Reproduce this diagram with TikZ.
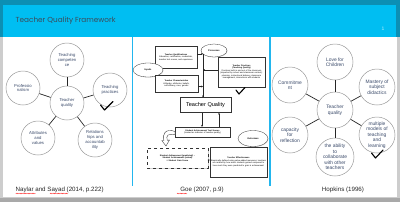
\documentclass[tikz,border=0pt]{standalone}
\usepackage{fontspec}
\setmainfont{Liberation Sans}
\newfontfamily\titlefont{Poppins}
\usetikzlibrary{shapes.geometric,shadows,arrows.meta,decorations.pathmorphing}
\definecolor{darkteal}{HTML}{0C8FB4}
\definecolor{headcyan}{HTML}{00BEF2}
\definecolor{linecyan}{HTML}{22B6EE}
\definecolor{titlegray}{HTML}{3C4B5A}
\definecolor{circtext}{HTML}{3A4A6A}
\definecolor{circline}{HTML}{9A9A9A}
\definecolor{shadowgray}{HTML}{A9A9A9}
\definecolor{sidegray}{HTML}{CDCDCD}
\tikzset{
  bubbleL/.style={circle,draw=circline,line width=0.5pt,fill=white,minimum size=34pt,inner sep=0pt,align=center,text=circtext,font=\fontsize{4.2}{4.8}\selectfont},
  bubbleR/.style={circle,draw=circline,line width=0.5pt,fill=white,minimum size=36pt,inner sep=0pt,align=center,text=circtext,font=\fontsize{4.9}{5.5}\selectfont},
  spoke/.style={draw=black!85,line width=0.7pt},
  gbox/.style={draw=black!80,line width=0.3pt,fill=white,align=center,inner sep=0.6pt,font=\fontsize{2.1}{2.5}\selectfont,drop shadow={shadow xshift=0.7pt,shadow yshift=-0.7pt,fill=gray!35,opacity=1}},
  gell/.style={ellipse,draw=black!80,line width=0.3pt,fill=white,inner sep=0pt,font=\fontsize{2.3}{2.7}\selectfont,drop shadow={shadow xshift=0.5pt,shadow yshift=-0.5pt,fill=gray!30,opacity=1}},
  garrow/.style={draw=black!85,line width=0.35pt,-{Stealth[length=2pt,width=1.8pt]}},
  caption/.style={font=\fontsize{6.2}{7}\selectfont,text=black!85},
  check/.style={draw=black,line width=1.1pt,line join=round,line cap=round},
  squiggle/.style={draw=red!85,line width=0.3pt,decorate,decoration={snake,amplitude=0.35pt,segment length=1.6pt}}
}
\begin{document}
\begin{tikzpicture}[x=1pt,y=-1pt]
\useasboundingbox (0,0) rectangle (400,202);
% frame
\fill[shadowgray] (0,0) rectangle (400,202);
\fill[sidegray] (0,0) rectangle (400,198);
\fill[darkteal] (0,0) rectangle (400,37);
\fill[headcyan] (3,4.5) rectangle (396,37);
\fill[white] (3,37) rectangle (397,197);
\node[font=\titlefont\fontsize{7.3}{8}\selectfont,text=titlegray,anchor=west,inner sep=0pt] (title) at (15.5,21) {Teacher Quality Framework};
\node[font=\fontsize{5}{6}\selectfont,text=white!70!headcyan,inner sep=0pt] (pnum) at (383,29) {1};
% separators
\draw[linecyan,line width=1.4pt] (132.5,37) -- (132.5,186);
\draw[linecyan,line width=1.4pt] (270,37) -- (270,186);

% ---------- left panel ----------
\node[bubbleL] (lc) at (67,103) {Teacher\\quality};
\node[bubbleL] (ltc) at (67,60) {Teaching\\competen\\ce};
\node[bubbleL] (lpr) at (23,88) {Professio\\nalism};
\node[bubbleL] (ltp) at (110,90) {Teaching\\practices};
\node[bubbleL] (lav) at (38,138) {Attributes\\and\\values};
\node[bubbleL] (lrh) at (95,140) {Relations\\hips and\\accountab\\ility};
\foreach \o in {ltc,lpr,ltp,lav,lrh} \draw[spoke] (lc) -- (\o);
\draw[check] (100.5,105) -- (104.5,110) -- (113,101.5);

% ---------- right panel ----------
\node[bubbleR] (rc) at (335,110) {Teacher\\quality};
\node[bubbleR] (rlc) at (335,62) {Love for\\Children};
\node[bubbleR] (rms) at (377,87) {Mastery of\\subject\\didactics};
\node[bubbleR] (rcm) at (290,85) {Commitme\\nt};
\node[bubbleR] (rcr) at (290,135) {capacity\\for\\reflection};
\node[bubbleR] (rmm) at (377,135) {multiple\\models of\\teaching\\and\\learning};
\node[bubbleR,minimum size=38pt] (rab) at (335,157) {the ability\\to\\collaborate\\with other\\teachers};
\foreach \o in {rlc,rms,rcm,rcr,rmm,rab} \draw[spoke] (rc) -- (\o);
\draw[check] (371.5,153) -- (375.5,158) -- (383,150);

% ---------- middle panel ----------
\node[gbox,minimum width=42pt,minimum height=22pt,text width=40pt] (tqual) at (176,57) {\textbf{Teacher Qualifications}\\Education, certification, credentials, teacher test scores, and experience};
\node[gell,minimum width=26pt,minimum height=13pt] (proc) at (214,50.5) {\textbf{Processes}};
\node[gbox,minimum width=47pt,minimum height=30pt,text width=45pt] (tprac) at (241.5,72) {\textbf{Teacher Practices}\\\textbf{(Teaching Quality)}\\Practices both in and out of the classroom (impacted by school and classroom context): planning, instructional delivery, classroom management, interactions with students};
\node[gell,minimum width=30pt,minimum height=14pt] (inputs) at (148,70) {\textbf{Inputs}};
\node[gbox,minimum width=43pt,minimum height=17pt,text width=41pt] (tchar) at (176.5,83.5) {\textbf{Teacher Characteristics}\\Attitudes, attributes, beliefs, self-efficacy, race, gender};
\node[gbox,minimum width=51pt,minimum height=15pt,font=\fontsize{5.6}{6.5}\selectfont] (tq) at (205.5,105) {Teacher Quality};
\node[gbox,minimum width=55pt,minimum height=10pt,text width=53pt] (sa) at (202.5,132) {\textbf{Student Achievement Test Scores}\\(treated as indicator of teacher quality)};
\node[gell,minimum width=30pt,minimum height=16pt] (outc) at (253,138.5) {\textbf{Outcomes}};
\node[gbox,dashed,minimum width=61pt,minimum height=20pt,text width=59pt] (gain) at (177.5,158) {\textbf{Student Achievement (predicted) --}\\\textbf{Student Achievement (actual)}\\\textbf{= Student Gain Score}};
\node[gbox,minimum width=57pt,minimum height=30pt,text width=55pt] (te) at (238.5,162) {\textbf{Teacher Effectiveness}\\Empirically defined using value-added measures; teachers are ranked by how much students gained compared to how much they were predicted to gain in achievement};
% arrows
\coordinate (vtop) at (203,54);
\coordinate (vq) at (203,54);
\coordinate (vc) at (203,86.5);
\coordinate (vp) at (203,70);
\draw[draw=black!85,line width=0.35pt] (vtop) -- (203,97);
\draw[garrow] (203,88) -- (tq.north -| 203,0);
\draw[garrow] (tqual.east |- vq) -- (vq);
\draw[garrow] (tchar.east |- vc) -- (vc);
\draw[garrow] (tprac.west |- vp) -- (vp);
\draw[garrow] (tq.south -| 202,0) -- (sa.north -| 202,0);
\draw[garrow] (sa.north -| 219,0) -- (tq.south -| 219,0);
\draw[garrow] (gain.east |- 0,160) -- (te.west |- 0,160);
% curved hollow arrow
\draw[line width=0.35pt,draw=black!80,fill=white] (175,131.5) .. controls (166,128) and (161.5,134) .. (164,140.5) -- (161.8,140.5) -- (166,146) -- (169.5,140) -- (167.3,140.3) .. controls (165.5,135.5) and (168.5,133) .. (175,134.8) -- cycle;
\draw[check] (236,90) -- (239,94) -- (245,87.5);

% ---------- captions ----------
\node[caption,anchor=west,inner sep=0pt] (capl) at (15.5,190.3) {Naylar and Sayad (2014, p.222)};
\node[caption,inner sep=0pt] (capm) at (202,190.3) {Goe (2007, p.9)};
\node[caption,inner sep=0pt] (capr) at (343,190.3) {Hopkins (1996)};
\draw[squiggle] (15.7,193.5) -- (35.7,193.5);
\draw[squiggle] (50,193.5) -- (68,193.5);
\draw[squiggle] (177,193.5) -- (187,193.5);
\end{tikzpicture}
\end{document}
